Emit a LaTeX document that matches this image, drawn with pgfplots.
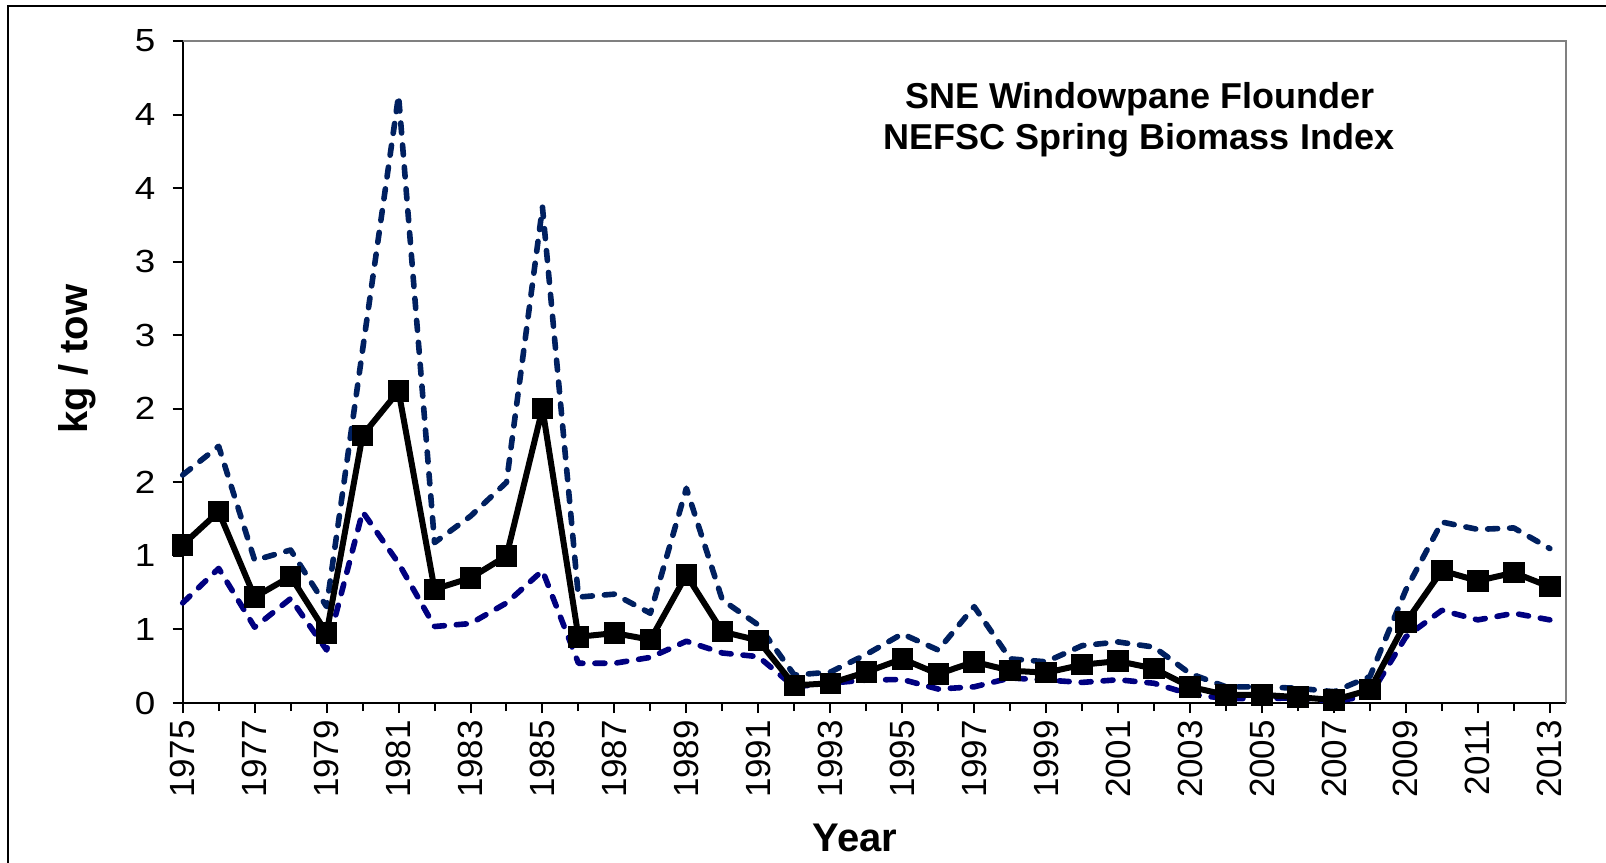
\documentclass[border=0pt]{standalone}
\usepackage{fontspec}
\setmainfont{Liberation Sans}
\usepackage{pgfplots}
\pgfplotsset{compat=1.18}
\definecolor{upc}{RGB}{0,32,96}
\definecolor{loc}{RGB}{0,0,128}
\pgfplotstableread{
year mean upper lower
1975 1.075 1.55 0.68
1976 1.30 1.745 0.915
1977 0.72 0.97 0.515
1978 0.86 1.04 0.71
1979 0.475 0.655 0.36
1980 1.82 2.40 1.30
1981 2.12 4.13 0.95
1982 0.773 1.09 0.52
1983 0.85 1.27 0.54
1984 1.00 1.50 0.68
1985 2.00 3.37 0.90
1986 0.45 0.72 0.27
1987 0.475 0.74 0.27
1988 0.43 0.61 0.31
1989 0.87 1.46 0.42
1990 0.485 0.70 0.34
1991 0.425 0.53 0.315
1992 0.12 0.19 0.11
1993 0.134 0.21 0.135
1994 0.21 0.33 0.156
1995 0.30 0.47 0.16
1996 0.197 0.36 0.095
1997 0.28 0.655 0.11
1998 0.22 0.30 0.17
1999 0.206 0.28 0.156
2000 0.26 0.39 0.14
2001 0.285 0.415 0.158
2002 0.234 0.38 0.134
2003 0.11 0.20 0.06
2004 0.055 0.11 0.03
2005 0.055 0.11 0.03
2006 0.04 0.10 0.035
2007 0.02 0.077 0.01
2008 0.09 0.18 0.05
2009 0.55 0.77 0.45
2010 0.90 1.23 0.63
2011 0.83 1.18 0.565
2012 0.886 1.19 0.61
2013 0.79 1.05 0.565
}\datatable
\begin{document}
\begin{tikzpicture}
\useasboundingbox (0,0) rectangle (803pt,431pt);
\draw[line width=1pt] (4pt,-10pt) -- (4pt,428pt) -- (820pt,428pt);
\begin{axis}[
  at={(91.35pt,79.5pt)}, anchor=south west, scale only axis,
  width=691.65pt, height=331pt,
  xmin=1975, xmax=2013.45, ymin=0, ymax=4.5,
  axis lines*=left,
  axis line style={black, line width=1pt},
  xtick={1975,1977,...,2013}, minor xtick={1976,1978,...,2012},
  ytick={0,0.5,1,1.5,2,2.5,3,3.5,4,4.5},
  yticklabels={0,1,1,2,2,3,3,4,4,5},
  tick align=outside, major tick length=5pt, minor tick length=4pt,
  tick style={black, line width=1pt},
  /pgf/number format/1000 sep={},
  /pgf/number format/assume math mode=true,
  xticklabel style={rotate=90, anchor=east, font=\fontsize{17.5}{17.5}\selectfont},
  yticklabel style={font=\fontsize{16}{16}\selectfont, xscale=1.15, xshift=-4pt},
  clip=false,
]
\draw[gray, line width=0.8pt] (rel axis cs:0,1) -- (rel axis cs:1,1) -- (rel axis cs:1,0);
\addplot[upc, line width=2.8pt, line cap=round, line join=round, dash pattern=on 5pt off 6pt] table[x=year, y=upper] {\datatable};
\addplot[loc, line width=2.8pt, line cap=round, line join=round, dash pattern=on 5pt off 6pt] table[x=year, y=lower] {\datatable};
\addplot[black, line width=3pt, line join=round, mark=square*, mark size=5.1pt, mark options={solid, fill=black, line width=0pt}] table[x=year, y=mean] {\datatable};
\end{axis}
\node[font=\fontsize{18}{18}\selectfont\bfseries] at (570pt,381.5pt) {SNE Windowpane Flounder};
\node[font=\fontsize{18}{18}\selectfont\bfseries] at (569.5pt,361pt) {NEFSC Spring Biomass Index};
\node[font=\fontsize{20}{20}\selectfont\bfseries, rotate=90] at (38.5pt,251.5pt) {kg / tow};
\node[font=\fontsize{20}{20}\selectfont\bfseries] at (427.5pt,12pt) {Year};
\end{tikzpicture}
\end{document}
